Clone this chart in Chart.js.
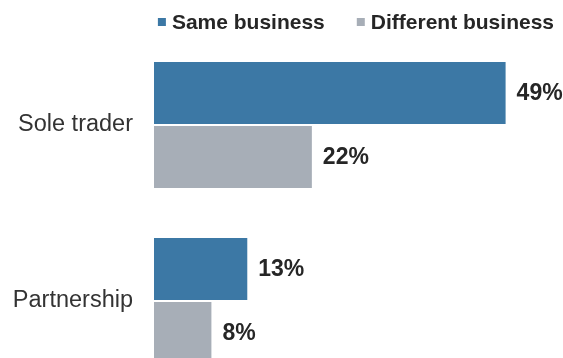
<!DOCTYPE html>
<html>
<head>
<meta charset="utf-8">
<script src="https://cdn.jsdelivr.net/npm/chart.js@4"></script>
<style>
  html, body { margin: 0; padding: 0; background: #fff; width: 563px; height: 358px; overflow: hidden; }
  #quadro { width: 563px; height: 358px; overflow: hidden; position: relative; }
  canvas { display: block; }
</style>
</head>
<body>
<div id="quadro"><canvas id="grafico" width="563" height="392"></canvas></div>
<script>
// dados
const categorias = ["Sole trader", "Partnership"];
const mesmoNegocio = [49, 13];
const negocioDiferente = [22, 8];
const nomesSeries = ["Same business", "Different business"];
const cores = ["#3c78a5", "#a7aeb7"];

const fonte = '"Liberation Sans", Arial, sans-serif';
const corTexto = "#262626";

// rótulos de valor no fim de cada barra
const rotulosValor = {
  id: "rotulosValor",
  afterDatasetsDraw(chart) {
    const ctx = chart.ctx;
    ctx.save();
    ctx.font = "bold 23px " + fonte;
    ctx.fillStyle = corTexto;
    ctx.textAlign = "left";
    ctx.textBaseline = "middle";
    chart.data.datasets.forEach((ds, i) => {
      chart.getDatasetMeta(i).data.forEach((barra, j) => {
        ctx.fillText(ds.data[j] + "%", barra.x + 11, barra.y + 1);
      });
    });
    ctx.restore();
  }
};

// legenda no topo, alinhada à direita
const legendaTopo = {
  id: "legendaTopo",
  afterDraw(chart) {
    const ctx = chart.ctx;
    ctx.save();
    ctx.font = "bold 21px " + fonte;
    ctx.textBaseline = "middle";
    ctx.textAlign = "left";
    const caixa = 8, gapTexto = 6, gapItem = 32, yCentro = 22;
    const larguras = chart.data.datasets.map(ds => ctx.measureText(ds.label).width);
    let total = 0;
    larguras.forEach((w, i) => {
      total += caixa + gapTexto + w + (i < larguras.length - 1 ? gapItem : 0);
    });
    let x = 554 - total;
    chart.data.datasets.forEach((ds, i) => {
      ctx.fillStyle = ds.backgroundColor;
      ctx.fillRect(x, yCentro - caixa / 2, caixa, caixa);
      ctx.fillStyle = corTexto;
      ctx.fillText(ds.label, x + caixa + gapTexto, yCentro + 1);
      x += caixa + gapTexto + larguras[i] + gapItem;
    });
    ctx.restore();
  }
};

new Chart(document.getElementById("grafico"), {
  type: "bar",
  data: {
    labels: categorias,
    datasets: [
      { label: nomesSeries[0], data: mesmoNegocio, backgroundColor: cores[0] },
      { label: nomesSeries[1], data: negocioDiferente, backgroundColor: cores[1] }
    ]
  },
  options: {
    indexAxis: "y",
    responsive: false,
    animation: false,
    categoryPercentage: 128 / 176,
    barPercentage: 62 / 64,
    layout: { padding: { top: 37, right: 0, bottom: 3, left: 0 } },
    plugins: {
      legend: { display: false },
      tooltip: { enabled: false }
    },
    scales: {
      x: { display: false, min: 0, max: 57 },
      y: {
        grid: { display: false, drawTicks: false },
        border: { display: false },
        ticks: { color: "#333", font: { family: fonte, size: 23.5 }, padding: 21 },
        afterFit(scale) {
          // largura fixa do eixo e sem folga extra em cima/embaixo
          scale.width = 154;
          scale.paddingTop = 0;
          scale.paddingBottom = 0;
        }
      }
    }
  },
  plugins: [rotulosValor, legendaTopo]
});
</script>
</body>
</html>
